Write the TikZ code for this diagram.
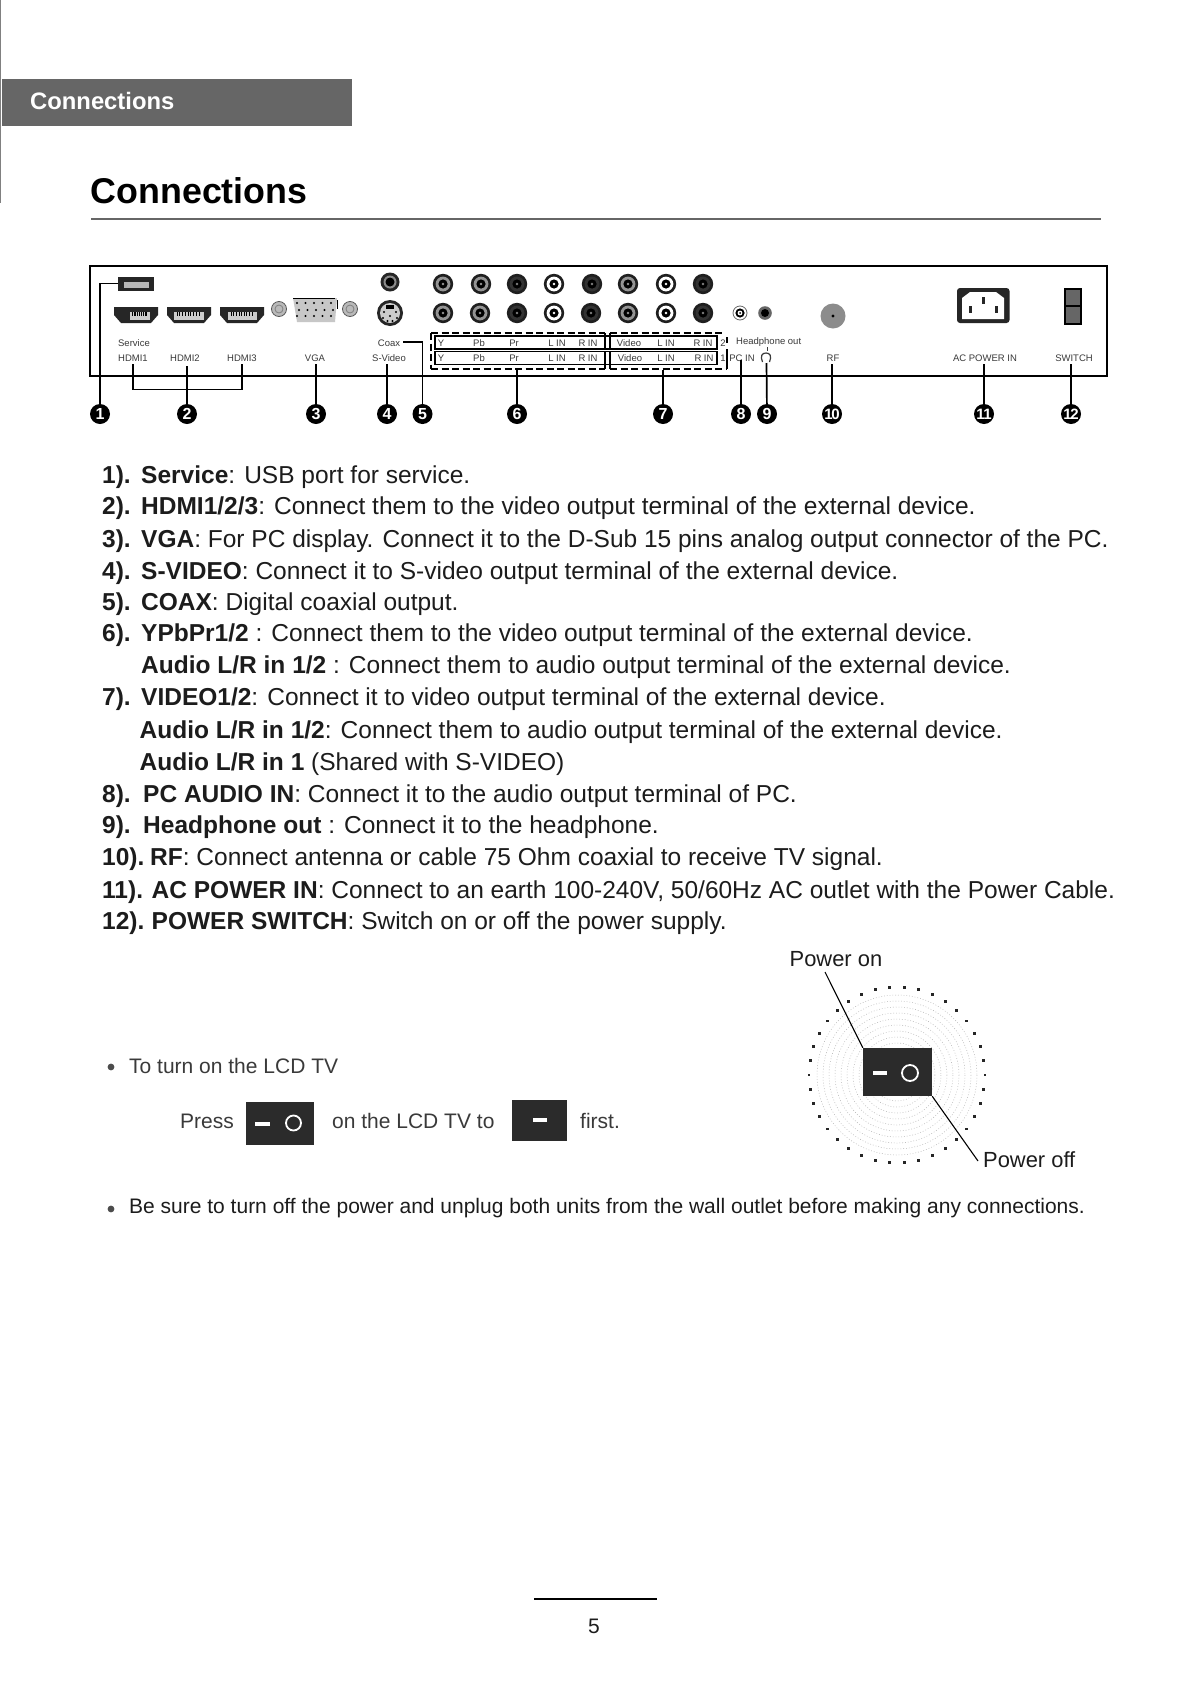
\documentclass[tikz,border=0pt]{standalone}
\usepackage{fontspec}
\setmainfont{Liberation Sans}
\definecolor{ink}{HTML}{1C1C1C}
\definecolor{soft}{HTML}{3A3A3A}
\definecolor{halft}{HTML}{2B2B2B}
\newcommand{\fs}[1]{\fontsize{#1}{#1}\selectfont}
\tikzset{
  txt/.style={inner sep=0pt,anchor=base west,text=ink,font=\fs{24.5}},
  mid/.style={inner sep=0pt,anchor=base west,text=ink,font=\fs{21}},
  pw/.style={inner sep=0pt,anchor=base west,text=ink,font=\fs{21.9}},
  tiny/.style={inner sep=0pt,anchor=base,text=soft,font=\fs{9.5}},
  badge/.style={circle,fill=black,text=white,inner sep=0pt,minimum size=20pt,font=\bfseries\fs{16}},
  badgeb/.style={badge,font=\bfseries\fs{15}},
  conn/.style={line width=1.7pt,black},
  frameline/.style={line width=2pt,black},
  dashbox/.style={line width=1.2pt,black,dash pattern=on 7pt off 3.5pt},
  boxline/.style={line width=1.2pt,black},
  thinl/.style={line width=1.1pt,black}
}
\newcommand{\bodyline}[7]{% name, y, numx, num, boldx, bold, rest
  \node[txt] (n#1) at (#3,#2) {\textbf{#4}};
  \node[txt] (b#1) at (#5,#2) {\textbf{#6}#7};
}
\newcommand{\jack}[4]{% x,y,ring,centre
  \fill[black!88] (#1,#2) circle (10.2);
  \fill[#3] (#1,#2) circle (7.4);
  \fill[black] (#1,#2) circle (4.6);
  \fill[#4] (#1,#2) circle (1.4);
}
\newcommand{\hdmi}[3]{% left x, slot from, slot to
  \fill[black!85] (#1,307) -- (#1+44,307) -- (#1+44,315) -- (#1+37,323) -- (#1+7,323) -- (#1,315) -- cycle;
  \fill[white!80!black] (#1+#2,312) rectangle (#1+#3,320);
  \foreach \k in {1,...,9} \fill[black] (#1+#2+\k*#3/11-\k*#2/11,312) rectangle ++(.8,3.5);
}
\newcommand{\screw}[2]{%
  \fill[gray!55] (#1,#2) circle (7.5);
  \draw[black!65,line width=.8pt] (#1,#2) circle (7.5);
  \draw[black!50,line width=.8pt] (#1,#2) circle (4);
}
\begin{document}
\begin{tikzpicture}[x=1pt,y=-1pt]
\useasboundingbox (0,0) rectangle (1190,1684);
\fill[white] (0,0) rectangle (1190,1684);

% page furniture
\draw[gray,line width=1pt] (.5,0) -- (.5,203);
\fill[black!60] (1.5,79) rectangle (352,126);
\node[inner sep=0pt,anchor=base west,text=white,font=\bfseries\fs{23.8}] (hdr) at (30,109) {Connections};
\node[inner sep=0pt,anchor=base west,text=black,font=\bfseries\fs{35.8}] (title) at (90.5,203) {Connections};
\draw[black!60,line width=2pt] (91,219) -- (1101,219);

% panel
\draw[frameline] (90,266) rectangle (1107,376);

% USB
\fill[black!85] (118,277) rectangle (153.5,291);
\fill[white!72!black] (124,282) rectangle (149,288);
% HDMI
\hdmi{114}{16}{36}
\hdmi{167}{7}{37}
\hdmi{220}{8}{37}
% VGA
\screw{279}{309}
\screw{350}{309}
\fill[black!22] (293,298) -- (337,298) -- (335,322) -- (297,322) -- cycle;
\draw[black,line width=.9pt] (293,298.5) -- (335,298.5);
\draw[black,line width=.9pt] (337,300) -- (337,309);
\foreach \r/\yy/\xs in {0/303/297,1/310/299,2/316/297}
  \foreach \c in {0,...,4}
    \fill[black] (\xs+\c*8.5,\yy) circle (1.1);
% coax and s-video
\fill[black!85] (390,282) circle (9.5);
\fill[black!45] (390,282) circle (6.5);
\fill[black] (390,282) circle (4.5);
\fill[black!85] (390,313) circle (13);
\fill[white!80!black] (390,313) circle (10);
\fill[black] (386,305) rectangle (394,309);
\foreach \dx/\dy in {-6/-1,6/-1,-7/5,7/5,-2.5/8,2.5/8,0/3}
  \fill[black] (390+\dx,313+\dy) circle (1.2);
% jacks row 1
\jack{443}{284}{black!42}{black!42}
\jack{481}{284}{black!42}{black!42}
\jack{517}{284}{black!80}{black!50}
\jack{554}{284}{white}{white}
\jack{592}{284}{black!80}{black!50}
\jack{628}{284}{black!42}{black!42}
\jack{666}{284}{white}{white}
\jack{703}{284}{black!80}{black!50}
% jacks row 2
\jack{443}{313}{black!42}{black!42}
\jack{480}{313}{black!42}{black!42}
\jack{517}{313}{black!80}{black!50}
\jack{554}{313}{white}{white}
\jack{591}{313}{black!80}{black!50}
\jack{628}{313}{black!42}{black!42}
\jack{666}{313}{white}{white}
\jack{703}{313}{black!80}{black!50}
% small jacks
\draw[black!60,line width=.8pt] (740,313) circle (7);
\fill[black] (740,313) circle (4.6);
\fill[white] (740,313) circle (2.4);
\fill[black] (740,313) circle (1);
\fill[black!60] (765,313) circle (6.8);
\fill[black] (765,313) circle (4);
% RF
\fill[black!45] (833,316) circle (12.5);
\fill[black] (833,316) circle (1.6);
% AC
\fill[black!85,rounded corners=3pt] (957,288) rectangle (1009.5,323);
\fill[white] (962,298) -- (970,292) -- (996,292) -- (1004,298) -- (1004,319) -- (962,319) -- cycle;
\fill[black!85] (968.5,306) rectangle (972,313);
\fill[black!85] (981.5,297) rectangle (985,304);
\fill[black!85] (994.5,306) rectangle (998,313);
% switch
\fill[black] (1064,288) rectangle (1082,325);
\fill[black!60] (1066,290) rectangle (1080,305);
\fill[black!60] (1066,307) rectangle (1080,323);

% YPbPr / Video group
\draw[dashbox] (431,333) -- (605,333);
\draw[dashbox] (610,333) -- (724,333);
\draw[dashbox] (431,333) -- (431,369);
\draw[dashbox] (431,369) -- (605,369);
\draw[dashbox] (610,369) -- (727,369);
\draw[boxline] (727,337) -- (727,343);
\draw[boxline] (727,349) -- (727,369);
\draw[boxline] (435,336) rectangle (717,349);
\draw[boxline] (435,351.5) rectangle (717,364.5);
\draw[boxline] (605,333) -- (605,349);
\draw[boxline] (610,333) -- (610,349);
\draw[boxline] (605,351) -- (605,369);
\draw[boxline] (610,351) -- (610,369);

\node[tiny] (rY) at (441,346) {Y};
\node[tiny] (rPb) at (479,346) {Pb};
\node[tiny] (rPr) at (514,346) {Pr};
\node[tiny] (rL) at (557,346) {L IN};
\node[tiny] (rR) at (588,346) {R IN};
\node[tiny] (rV) at (629,346) {Video};
\node[tiny] (rL2) at (666,346) {L IN};
\node[tiny] (rR2) at (703,346) {R IN};
\node[tiny] (rn) at (723,346) {2};
\node[tiny] (sY) at (441,361.5) {Y};
\node[tiny] (sPb) at (479,361.5) {Pb};
\node[tiny] (sPr) at (514,361.5) {Pr};
\node[tiny] (sL) at (557,361.5) {L IN};
\node[tiny] (sR) at (588,361.5) {R IN};
\node[tiny] (sV) at (630,361.5) {Video};
\node[tiny] (sL2) at (666,361.5) {L IN};
\node[tiny] (sR2) at (704,361.5) {R IN};
\node[tiny] (sn) at (723,361.5) {1};

% labels
\node[tiny] (lService) at (134,346) {Service};
\node[tiny] (lCoax) at (389,346) {Coax};
\node[tiny] (lH1) at (133,361.5) {HDMI1};
\node[tiny] (lH2) at (185,361.5) {HDMI2};
\node[tiny] (lH3) at (242,361.5) {HDMI3};
\node[tiny] (lVGA) at (315,361.5) {VGA};
\node[tiny] (lSV) at (389,361.5) {S-Video};
\node[tiny] (lPC) at (742,361.5) {PC IN};
\node[tiny,anchor=base west] (lHp) at (736,344.5) {Headphone out};
\node[tiny] (lRF) at (833,361.5) {RF};
\node[tiny] (lAC) at (985,361.5) {AC POWER IN};
\node[tiny] (lSW) at (1074,361.5) {SWITCH};
% headphone icon
\draw[soft,line width=1.2pt] (762.5,362) .. controls (760,356) and (762,353) .. (766,353) .. controls (770,353) and (772,356) .. (769.5,362);
\draw[soft,line width=.6pt] (767,347) -- (767,351);

% badges
\node[badge] (c1) at (100,414) {1};
\node[badge] (c2) at (187,414) {2};
\node[badge] (c3) at (316,414) {3};
\node[badge] (c4) at (387,414) {4};
\node[badge] (c5) at (422.5,414) {5};
\node[badge] (c6) at (517,414) {6};
\node[badge] (c7) at (663,414) {7};
\node[badge] (c8) at (741,414) {8};
\node[badge] (c9) at (767,414) {9};
\node[badgeb] (c10) at (832,414) {1\kern-1.5pt 0};
\node[badgeb] (c11) at (984,414) {1\kern-1.5pt 1};
\node[badgeb] (c12) at (1071,414) {1\kern-1.5pt 2};

% connectors
\coordinate (usbL) at (118,283.5);
\coordinate (h1b) at (133,364);
\coordinate (h2b) at (187,366);
\coordinate (h3b) at (242,364);
\coordinate (brk) at (187,389.5);
\coordinate (t3) at (316,364);
\coordinate (t4) at (387,364);
\coordinate (t5) at (403,342);
\coordinate (t6) at (517,370);
\coordinate (t7) at (663,370);
\coordinate (t8) at (741,360);
\coordinate (t9) at (766.5,363);
\coordinate (t10) at (832,364);
\coordinate (t11) at (984,364);
\coordinate (t12) at (1071,364);
\draw[conn] (usbL) -| (c1);
\draw[conn] (h1b) |- (brk) -| (h3b);
\draw[conn] (h2b) -- (c2);
\draw[conn] (t3) -- (c3);
\draw[conn] (t4) -- (c4);
\draw[conn] (t5) -| (c5);
\draw[conn] (t6) -- (c6);
\draw[conn] (t7) -- (c7);
\draw[conn] (t8) -- (c8);
\draw[conn] (t9) -- (c9);
\draw[conn] (t10) -- (c10);
\draw[conn] (t11) -- (c11);
\draw[conn] (t12) -- (c12);

% body text
\bodyline{1}{483}{102}{1).}{141}{Service}{: USB port for service.}
\bodyline{2}{514}{102}{2).}{141}{HDMI1/2/3}{: Connect them to the video output terminal of the external device.}
\bodyline{3}{547}{102}{3).}{141}{VGA}{: For PC display. Connect it to the D-Sub 15 pins analog output connector of the PC.}
\bodyline{4}{579}{102}{4).}{141}{S-VIDEO}{: Connect it to S-video output terminal of the external device.}
\bodyline{5}{610}{102}{5).}{141}{COAX}{: Digital coaxial output.}
\bodyline{6}{641}{102}{6).}{141}{YPbPr1/2}{ : Connect them to the video output terminal of the external device.}
\node[txt] (b6a) at (141,673) {\textbf{Audio L/R in 1/2} : Connect them to audio output terminal of the external device.};
\bodyline{7}{705}{102}{7).}{141}{VIDEO1/2}{: Connect it to video output terminal of the external device.}
\node[txt] (b7a) at (139.5,738) {\textbf{Audio L/R in 1/2}: Connect them to audio output terminal of the external device.};
\node[txt] (b7b) at (139.5,770) {\textbf{Audio L/R in 1} (Shared with S-VIDEO)};
\bodyline{8}{802}{102}{8).}{143}{PC AUDIO IN}{: Connect it to the audio output terminal of PC.}
\bodyline{9}{833}{102}{9).}{143}{Headphone out}{ : Connect it to the headphone.}
\bodyline{10}{865}{102}{10).}{150}{RF}{: Connect antenna or cable 75 Ohm coaxial to receive TV signal.}
\bodyline{11}{898}{102}{11).}{151.5}{AC POWER IN}{: Connect to an earth 100-240V, 50/60Hz AC outlet with the Power Cable.}
\bodyline{12}{929}{102}{12).}{151.5}{POWER SWITCH}{: Switch on or off the power supply.}

% power dial
\foreach \r in {14,20,...,84}
  \draw[black!30,line width=.5pt,dash pattern=on .8pt off 2pt] (897,1075) circle (\r);
\foreach \k in {0,...,37}
  \fill[black!85] ({897+88*cos(\k*360/38)-1.4},{1075+88*sin(\k*360/38)-1.4}) rectangle ++(2.8,2.8);
\node[pw] (pon) at (789.5,966) {Power on};
\node[pw] (poff) at (983,1167) {Power off};
\node[inner sep=0pt,minimum width=69pt,minimum height=48pt,fill=halft] (sw) at (897.5,1072) {};
\fill[white] (873,1071) rectangle (887,1075);
\draw[white,line width=1.8pt] (910,1073) circle (8);
\draw[thinl] (825,972) -- (sw.north west);
\draw[thinl] (sw.south east) -- (978,1161);

% instructions
\fill[black!70] (111,1067) circle (3.4);
\node[mid,text=soft] (t1) at (129,1073) {To turn on the LCD TV};
\node[mid,text=soft] (t2) at (180,1128) {Press};
\fill[halft] (246,1102) rectangle (314,1145);
\fill[white] (255,1122) rectangle (270,1126);
\draw[white,line width=1.8pt] (293.5,1123) circle (7.5);
\node[mid,text=soft] (t3b) at (332,1128) {on the LCD TV to};
\fill[halft] (512,1100) rectangle (567,1141);
\fill[white] (533,1118) rectangle (547,1122);
\node[mid,text=soft] (t4b) at (580,1128) {first.};
\fill[black!70] (111,1209) circle (3.4);
\node[mid] (t5b) at (129,1213) {Be sure to turn off the power and unplug both units from the wall outlet before making any connections.};

% page number
\draw[black,line width=1.4pt] (534,1599) -- (657,1599);
\node[mid,anchor=base] (pg) at (594,1633) {5};
\end{tikzpicture}
\end{document}
